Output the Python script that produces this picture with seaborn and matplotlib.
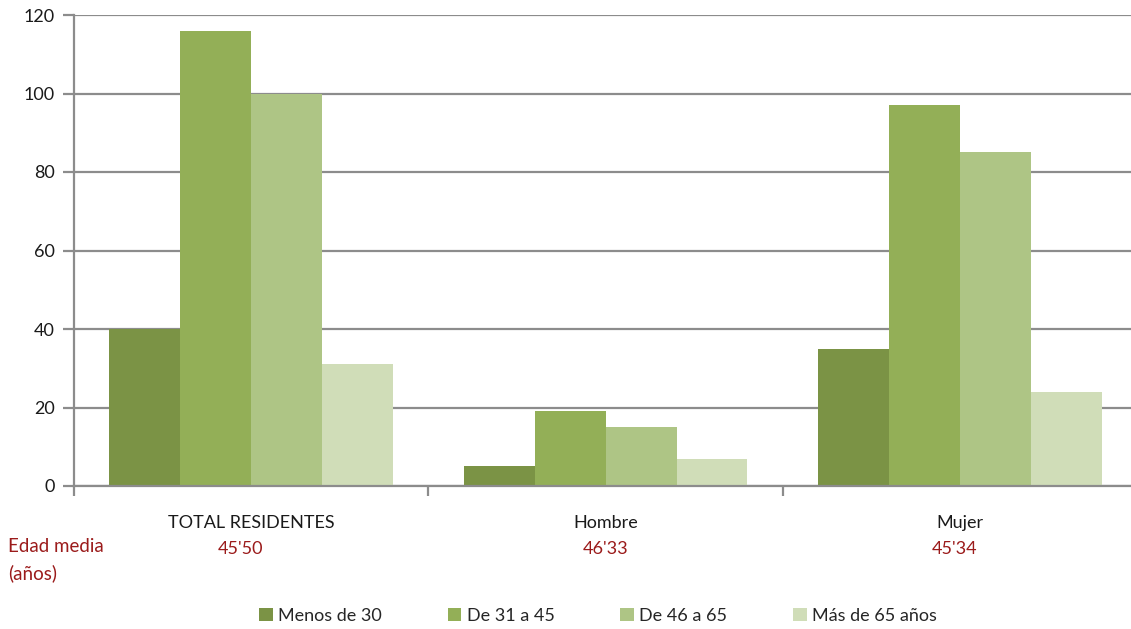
import matplotlib
matplotlib.use("Agg")
import matplotlib.pyplot as plt
import matplotlib.transforms as mtransforms
import pandas as pd
import seaborn as sns

categories = ["TOTAL RESIDENTES", "Hombre", "Mujer"]
age_groups = ["Menos de 30", "De 31 a 45", "De 46 a 65", "Más de 65 años"]
menos_30 = [40, 5, 35]
de_31_45 = [116, 19, 97]
de_46_65 = [100, 15, 85]
mas_65 = [31, 7, 24]
edad_media = ["45'50", "46'33", "45'34"]
yticks = [0, 20, 40, 60, 80, 100, 120]

palette = ["#7B9345", "#93AF57", "#AEC585", "#D0DDB8"]
grid_color = "#8C8C8C"
red = "#9B1B1B"

rows = []
for series, vals in zip(age_groups, [menos_30, de_31_45, de_46_65, mas_65]):
    for cat, v in zip(categories, vals):
        rows.append({"categoria": cat, "grupo": series, "valor": v})
df = pd.DataFrame(rows)

sns.set_theme(style="white")
plt.rcParams["font.family"] = ["Lato", "DejaVu Sans"]
fs = 13

fig = plt.figure(figsize=(11.31, 6.29), dpi=100)
ax = fig.add_axes([74 / 1131, 1 - 486 / 629, 1 - 74 / 1131, (486 - 15) / 629])

sns.barplot(data=df, x="categoria", y="valor", hue="grupo", order=categories,
            hue_order=age_groups, palette=palette, width=0.8, linewidth=0,
            saturation=1, ax=ax)

ax.set_ylim(0, 120)
ax.set_xlim(-0.5, 2.482)
ax.set_yticks(yticks)
ax.set_yticklabels([str(t) for t in yticks], fontsize=fs, color="#1a1a1a")
ax.yaxis.grid(True, color=grid_color, linewidth=1.6)
ax.set_axisbelow(True)
ax.set_xlabel("")
ax.set_ylabel("")

for side in ["top", "right"]:
    ax.spines[side].set_visible(False)
for side in ["left", "bottom"]:
    ax.spines[side].set_color(grid_color)
    ax.spines[side].set_linewidth(1.6)

ax.tick_params(axis="y", which="major", direction="out", length=8, width=1.6,
               color=grid_color, pad=6, left=True)
ax.set_xticks(range(len(categories)))
ax.set_xticklabels(categories, fontsize=fs, color="#1a1a1a")
ax.tick_params(axis="x", which="major", length=0, pad=21)
ax.set_xticks([-0.5, 0.5, 1.5], minor=True)
ax.tick_params(axis="x", which="minor", direction="out", length=7, width=1.6,
               color=grid_color, bottom=True)

trans = mtransforms.blended_transform_factory(ax.transData, fig.transFigure)
offsets = [-0.03, 0.0, -0.015]
for i, txt in enumerate(edad_media):
    ax.text(i + offsets[i], 1 - 549 / 629, txt, transform=trans, ha="center",
            va="center", fontsize=fs, color=red)
fig.text(8 / 1131, 1 - 547 / 629, "Edad media", ha="left", va="center",
         fontsize=fs + 0.5, color=red)
fig.text(8 / 1131, 1 - 573 / 629, "(años)", ha="left", va="center",
         fontsize=fs + 0.5, color=red)

handles, labels = ax.get_legend_handles_labels()
ax.get_legend().remove()
fig.legend(handles, labels, loc="center", bbox_to_anchor=(598 / 1131, 1 - 616 / 629),
           ncol=4, frameon=False, fontsize=fs, handlelength=0.75, handleheight=0.75,
           handletextpad=0.3, columnspacing=3.65)

fig.savefig("out.png", dpi=100)
